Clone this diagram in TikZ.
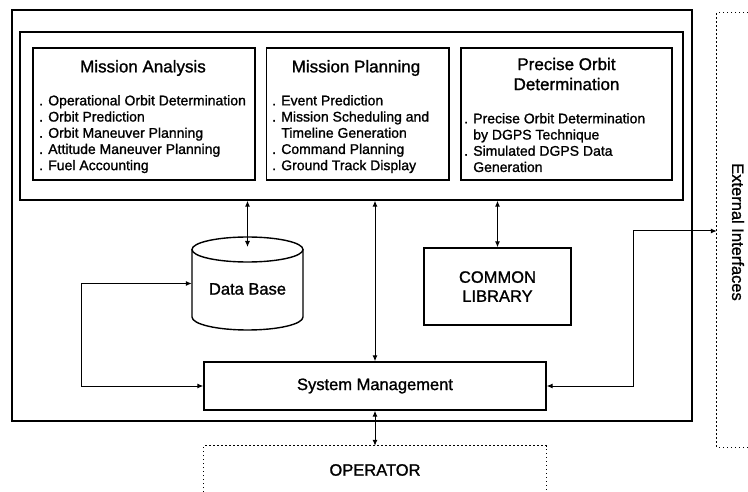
\documentclass[tikz,border=0pt]{standalone}
\usepackage{fontspec}
\setmainfont{Liberation Sans}[FakeBold=1.2]
\usetikzlibrary{arrows.meta}

\begin{document}
\begin{tikzpicture}[x=1pt,y=-1pt,
  frame/.style={draw, line width=1.4pt, inner sep=0pt},
  rim/.style={line width=1.4pt},
  link/.style={line width=1pt,
    {Latex[length=6pt,width=5pt]}-{Latex[length=6pt,width=5pt]}},
  dots/.style={line width=1.2pt, dash pattern=on 1.2pt off 2.8pt},
  ttl/.style={font=\fontsize{17}{20}\selectfont, align=center, inner sep=0pt},
  items/.style={font=\fontsize{14}{16.2}\selectfont, align=left,
    anchor=north west, inner sep=0pt},
  lbl/.style={font=\fontsize{16.5}{19}\selectfont, align=center, inner sep=0pt}
]
\useasboundingbox (0,0) rectangle (748,492);

% ground system frame and the application module strip
\node[frame, minimum width=680pt, minimum height=411pt] (outer) at (352,215.5) {};
\node[frame, minimum width=663pt, minimum height=168pt] (core) at (351.5,116) {};

% application modules
\node[frame, minimum width=222pt, minimum height=132pt] (ma) at (144,114) {};
\node[frame, minimum width=182.5pt, minimum height=132pt] (mp) at (357.75,114) {};
\node[frame, minimum width=211pt, minimum height=132pt] (pod) at (566.5,114) {};

\node[ttl] (matitle) at (143,68) {Mission Analysis};
\node[items] (maitems) at (39,95) {. Operational Orbit Determination\\
. Orbit Prediction\\
. Orbit Maneuver Planning\\
. Attitude Maneuver Planning\\
. Fuel Accounting};

\node[ttl] (mptitle) at (356,68) {Mission Planning};
\node[items] (mpitems) at (272,95) {. Event Prediction\\
. Mission Scheduling and\\
\phantom{. }Timeline Generation\\
. Command Planning\\
. Ground Track Display};

\node[ttl] (podtitle) at (566.5,74) {Precise Orbit\\Determination};
\node[items] (poditems) at (464,113) {. Precise Orbit Determination\\
\phantom{. }by DGPS Technique\\
. Simulated DGPS Data\\
\phantom{. }Generation};

% data base drum
\node[inner sep=0pt, minimum width=111pt, minimum height=93pt] (db) at (247.5,283.5) {};
\draw[rim] (247.5,249.5) ellipse[x radius=55.5, y radius=12.5];
\draw[rim] (192,249.5) -- (192,317) arc[start angle=180, end angle=0, x radius=55.5, y radius=13] -- (303,249.5);
\node[lbl] (dblbl) at (247.5,289) {Data Base};
\coordinate (dbtop) at (247.5,247);

% common library and system management
\node[frame, minimum width=147pt, minimum height=77pt] (cl) at (497.5,286.5) {};
\node[lbl] (cllbl) at (497.5,286.5) {COMMON\\LIBRARY};
\node[frame, minimum width=342pt, minimum height=48pt] (sm) at (375,386) {};
\node[lbl] (smlbl) at (375,386) {System Management};

% external interfaces (open on the right)
\node[inner sep=0pt, minimum width=31pt, minimum height=434pt] (ext) at (732.5,230) {};
\draw[dots] (ext.north east) -- (ext.north west) -- (ext.south west) -- (ext.south east);
\node[lbl, rotate=-90] (extlbl) at (738,232) {External Interfaces};

% operator (open at the bottom)
\node[inner sep=0pt, minimum width=342pt, minimum height=46pt] (op) at (375,469) {};
\draw[dots] (op.south west) -- (op.north west) -- (op.north east) -- (op.south east);
\node[lbl] (oplbl) at (375,470) {OPERATOR};

% data flows
\draw[link] (dbtop |- core.south) -- (dbtop);
\draw[link] (sm.north |- core.south) -- (sm.north);
\draw[link] (cl.north |- core.south) -- (cl.north);
\coordinate (lp) at (81,283.5);
\draw[link] (db.west) -- (lp) |- (sm.west);
\coordinate (rp) at (633,231);
\draw[link] (sm.east) -| (rp) -- (rp -| ext.west);
\draw[link] (sm.south) -- (op.north);
\end{tikzpicture}
\end{document}
